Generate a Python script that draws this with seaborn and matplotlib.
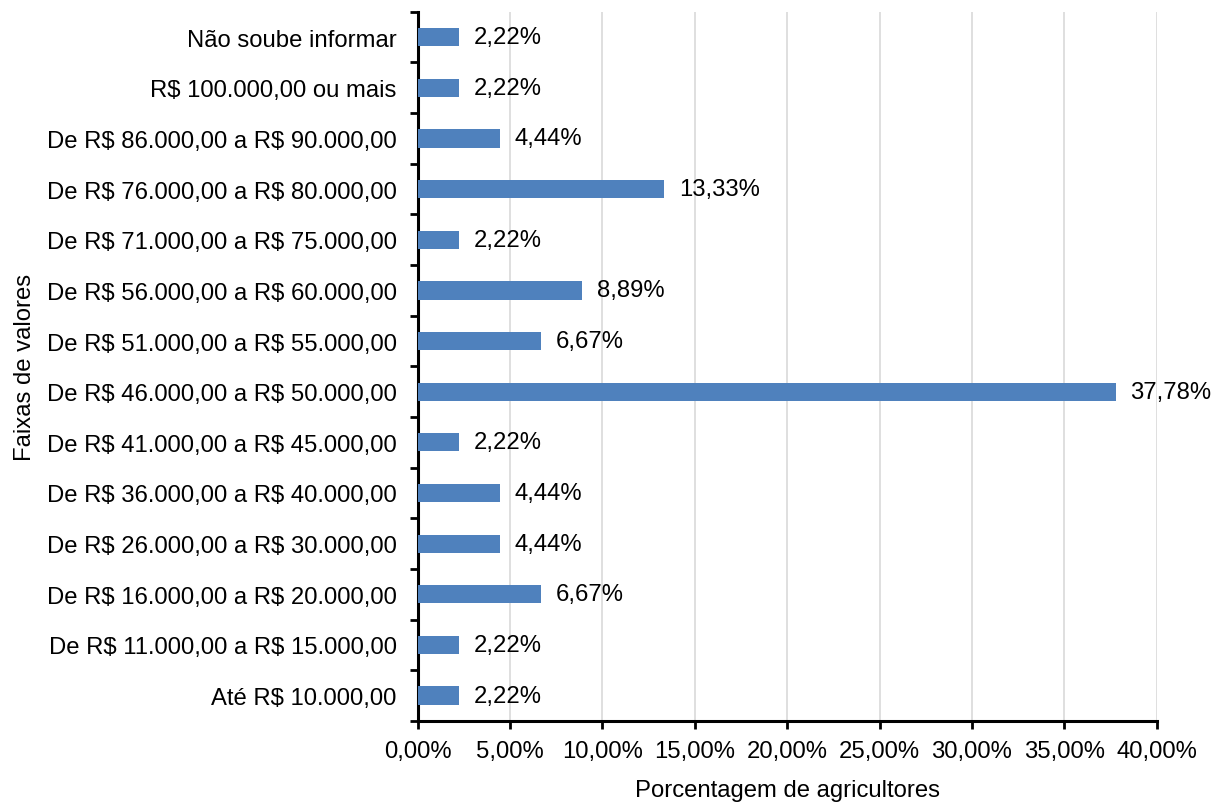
import numpy as np
import pandas as pd
import matplotlib
matplotlib.use("Agg")
import matplotlib.pyplot as plt
import seaborn as sns

faixas = [
    "Não soube informar",
    "R$ 100.000,00 ou mais",
    "De R$ 86.000,00 a R$ 90.000,00",
    "De R$ 76.000,00 a R$ 80.000,00",
    "De R$ 71.000,00 a R$ 75.000,00",
    "De R$ 56.000,00 a R$ 60.000,00",
    "De R$ 51.000,00 a R$ 55.000,00",
    "De R$ 46.000,00 a R$ 50.000,00",
    "De R$ 41.000,00 a R$ 45.000,00",
    "De R$ 36.000,00 a R$ 40.000,00",
    "De R$ 26.000,00 a R$ 30.000,00",
    "De R$ 16.000,00 a R$ 20.000,00",
    "De R$ 11.000,00 a R$ 15.000,00",
    "Até R$ 10.000,00",
]
porcentagens = [2.22, 2.22, 4.44, 13.33, 2.22, 8.89, 6.67, 37.78, 2.22, 4.44, 4.44, 6.67, 2.22, 2.22]
x_ticks = [0, 5, 10, 15, 20, 25, 30, 35, 40]

df = pd.DataFrame({"faixa": faixas, "pct": porcentagens})

sns.set_style("white")
plt.rcParams["font.family"] = ["Liberation Sans", "DejaVu Sans"]
plt.rcParams["text.parse_math"] = False
plt.rcParams["text.color"] = "black"
plt.rcParams["axes.labelcolor"] = "black"
plt.rcParams["xtick.color"] = "black"
plt.rcParams["ytick.color"] = "black"

fs = 17.2

fig, ax = plt.subplots(figsize=(12.28, 8.03), dpi=100)
fig.subplots_adjust(left=0.34, right=0.942, top=0.984, bottom=0.101)

sns.barplot(data=df, x="pct", y="faixa", color="#4F81BD", saturation=1,
            width=0.36, linewidth=0, ax=ax, zorder=3)

# rótulos de dados
for i, v in enumerate(porcentagens):
    ax.text(v + 0.8, i, f"{v:.2f}%".replace(".", ","), va="center", ha="left",
            fontsize=fs, color="black")

ax.set_xlim(0, 40)
ax.set_ylim(len(faixas) - 0.5, -0.5)
ax.set_xticks(x_ticks)
ax.set_xticklabels([f"{t:.2f}%".replace(".", ",") for t in x_ticks], fontsize=fs)
ax.tick_params(axis="y", which="major", labelsize=fs, length=0, pad=15, left=True)
ax.set_yticks(np.arange(-0.5, len(faixas), 1), minor=True)
ax.tick_params(axis="y", which="minor", length=6, width=2, direction="out",
               color="black", left=True)
ax.tick_params(axis="x", length=6, width=2, direction="out", color="black",
               pad=8, bottom=True)

ax.grid(axis="x", color="#D9D9D9", linewidth=1.2, zorder=0)
ax.grid(axis="y", visible=False)
for s in ["top", "right"]:
    ax.spines[s].set_visible(False)
for s in ["left", "bottom"]:
    ax.spines[s].set_linewidth(2.2)
    ax.spines[s].set_color("black")

ax.set_xlabel("Porcentagem de agricultores", fontsize=fs, labelpad=12)
ax.set_ylabel("Faixas de valores", fontsize=fs, labelpad=8)

fig.savefig("out.png", dpi=100)
